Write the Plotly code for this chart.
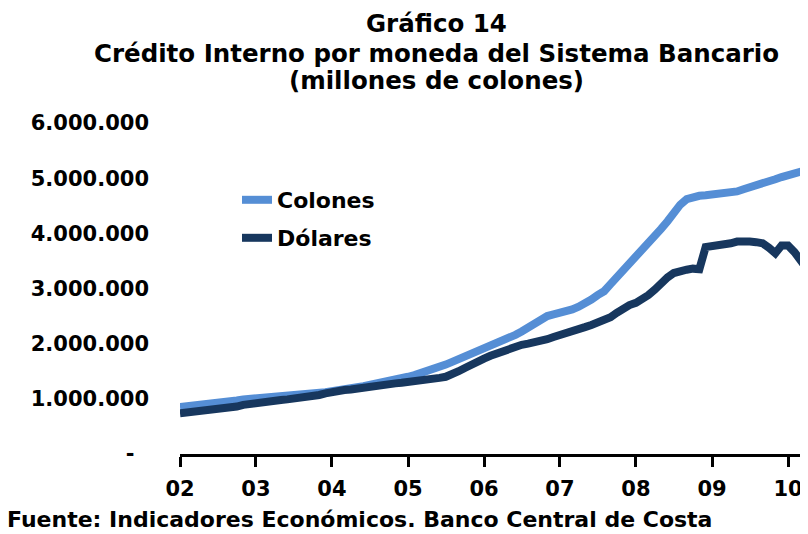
import plotly.graph_objects as go
import pandas as pd

# meses ene-2002 .. abr-2010
meses = pd.date_range("2002-01-01", periods=100, freq="MS")

# millones de colones (en millones -> se multiplica por 1e6)
colones = [
    0.85, 0.86, 0.87, 0.88, 0.89, 0.90, 0.92, 0.93, 0.95, 0.97, 0.99, 1.00,
    1.01, 1.02, 1.03, 1.03, 1.04, 1.04, 1.05, 1.05, 1.06, 1.07, 1.09, 1.12,
    1.14, 1.15, 1.17, 1.19, 1.21, 1.23, 1.25, 1.27, 1.29, 1.32, 1.35, 1.38,
    1.40, 1.43, 1.46, 1.50, 1.54, 1.58, 1.62, 1.67, 1.72, 1.77, 1.81, 1.85,
    1.88, 1.93, 1.98, 2.04, 2.10, 2.16, 2.22, 2.30, 2.38, 2.45, 2.50, 2.53,
    2.55, 2.58, 2.62, 2.67, 2.72, 2.80, 2.88, 2.95, 3.08, 3.20, 3.32, 3.45,
    3.58, 3.68, 3.80, 3.92, 4.08, 4.22, 4.38, 4.52, 4.62, 4.66, 4.68, 4.69,
    4.70, 4.71, 4.72, 4.73, 4.76, 4.80, 4.83, 4.86, 4.90, 4.94, 4.98, 5.02,
    5.06, 5.09, 5.12, 5.15,
]
dolares = [
    0.74, 0.75, 0.76, 0.77, 0.78, 0.79, 0.80, 0.82, 0.84, 0.86, 0.89, 0.91,
    0.93, 0.95, 0.96, 0.97, 0.98, 0.99, 1.00, 1.01, 1.02, 1.04, 1.07, 1.10,
    1.13, 1.15, 1.16, 1.17, 1.19, 1.20, 1.22, 1.24, 1.26, 1.27, 1.28, 1.29,
    1.30, 1.31, 1.32, 1.34, 1.36, 1.38, 1.40, 1.44, 1.50, 1.56, 1.63, 1.69,
    1.73, 1.78, 1.82, 1.86, 1.92, 1.96, 1.98, 2.00, 2.02, 2.05, 2.08, 2.12,
    2.15, 2.18, 2.22, 2.26, 2.30, 2.34, 2.38, 2.42, 2.48, 2.56, 2.64, 2.70,
    2.74, 2.80, 2.88, 2.98, 3.10, 3.20, 3.28, 3.32, 3.34, 3.36, 3.35, 3.75,
    3.76, 3.78, 3.80, 3.82, 3.85, 3.86, 3.85, 3.84, 3.82, 3.74, 3.64, 3.78,
    3.78, 3.66, 3.50, 3.36,
]

y_ticks = [0, 1e6, 2e6, 3e6, 4e6, 5e6, 6e6]
y_labels = ["-\u00a0\u00a0", "1.000.000", "2.000.000", "3.000.000",
            "4.000.000", "5.000.000", "6.000.000"]

titulos = [
    "Gráfico 14",
    "Crédito Interno por moneda del Sistema Bancario",
    "(millones de colones)",
]

azul_claro = "rgb(85, 142, 213)"
azul_oscuro = "rgb(23, 55, 94)"
fuente = "DejaVu Sans"

# la pagina pone 8px de margen al div, asi que todo va corrido 8px
W, H = 800, 526
L, T, B = 172, 115, 80
ph = H - T - B
pw = W - L


def px_x(x):
    return (x - L) / pw


def px_y(y):
    return (H - B - y) / ph


fig = go.Figure()

fig.add_trace(go.Scatter(
    x=meses, y=[v * 1e6 for v in colones], mode="lines", name="Colones",
    line=dict(color=azul_claro, width=8), legend="legend", showlegend=True,
))
fig.add_trace(go.Scatter(
    x=meses, y=[v * 1e6 for v in dolares], mode="lines", name="Dólares",
    line=dict(color=azul_oscuro, width=8), legend="legend2", showlegend=True,
))

leyenda = dict(
    xanchor="left", yanchor="middle",
    font=dict(family=fuente, size=22, color="black", weight="bold"),
    bgcolor="rgba(0,0,0,0)", borderwidth=0, visible=True,
)

fig.update_layout(
    width=W, height=H,
    margin=dict(l=L, r=0, t=T, b=B, autoexpand=False),
    paper_bgcolor="white", plot_bgcolor="white",
    showlegend=True,
    legend=dict(leyenda, x=px_x(229), y=px_y(192)),
    legend2=dict(leyenda, x=px_x(229), y=px_y(230)),
    xaxis=dict(
        type="date", range=["2002-01-01", "2010-04-07"],
        tick0="2002-01-01", dtick="M12", tickformat="%y",
        showgrid=False, zeroline=False,
        showline=True, linecolor="black", linewidth=3,
        ticks="outside", ticklen=10, tickwidth=3, tickcolor="black",
        ticklabelstandoff=4,
        tickfont=dict(family=fuente, size=21, color="black", weight="bold"),
    ),
    yaxis=dict(
        range=[0, 6e6], tickvals=y_ticks, ticktext=y_labels,
        showgrid=False, zeroline=False, showline=False,
        ticks="", ticklabelstandoff=30,
        tickfont=dict(family=fuente, size=21, color="black", weight="bold"),
    ),
)

for texto, yc in zip(titulos, [16, 45, 72]):
    fig.add_annotation(
        text=texto, xref="paper", yref="paper",
        x=px_x(428), y=px_y(yc), xanchor="center", yanchor="middle",
        showarrow=False,
        font=dict(family=fuente, size=24.5, color="black", weight="bold"),
    )

fig.add_annotation(
    text="Fuente: Indicadores Económicos. Banco Central de Costa",
    xref="paper", yref="paper", x=px_x(-3), y=px_y(512),
    xanchor="left", yanchor="middle", showarrow=False,
    font=dict(family=fuente, size=22, color="black", weight="bold"),
)

fig.write_html("out.html")
